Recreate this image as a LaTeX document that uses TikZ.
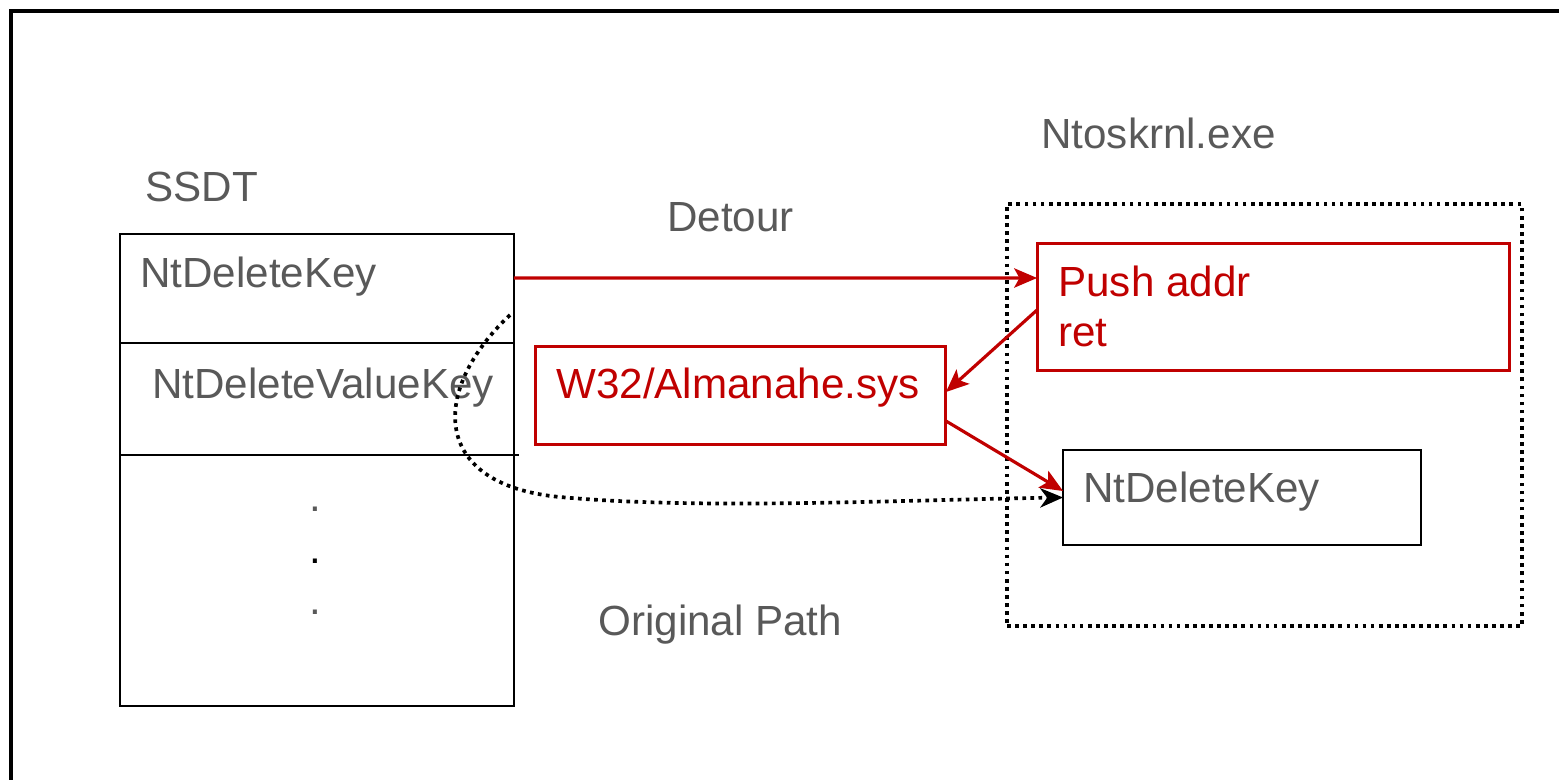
\documentclass[tikz,border=0pt]{standalone}
\usepackage{fontspec}
\setmainfont{Liberation Sans}
\usetikzlibrary{arrows.meta,calc}
\definecolor{tgray}{RGB}{89,89,89}
\definecolor{dred}{RGB}{192,0,0}
\tikzset{
  box/.style={draw, line width=1.6pt, rectangle, inner sep=0pt, outer sep=0pt},
  redbox/.style={box, draw=dred, line width=1.7pt},
  dotbox/.style={box, line width=2.1pt, dash pattern=on 2.1pt off 2.5pt},
  lbl/.style={anchor=base west, inner sep=0pt, font=\fontsize{24}{29}\selectfont, text=tgray},
  redlbl/.style={lbl, text=dred},
  dotlbl/.style={lbl, anchor=base},
  redarrow/.style={draw=dred, line width=1.8pt, -{Stealth[length=13pt,width=11pt,inset=3pt]}},
  dotline/.style={line width=2.1pt, dash pattern=on 2.1pt off 2.5pt, -{Stealth[length=13pt,width=11pt,inset=4pt]}},
}
\begin{document}
\begin{tikzpicture}[x=0.02cm, y=-0.02cm]
\useasboundingbox (0,0) rectangle (1559,780);
% outer frame
\draw[line width=2.6pt] (1559,11) -- (11,11) -- (11,780);

% SSDT table
\node[box, minimum width=7.88cm, minimum height=2.18cm] (row1) at (317,288.5) {};
\node[box, minimum width=7.88cm, minimum height=2.24cm] (row2) at (317,399) {};
\node[box, minimum width=7.88cm, minimum height=5.02cm] (row3) at (317,580.5) {};
\draw[line width=1.6pt] (row3.north east) -- ++(5,0);

\node[lbl] (ssdtlbl) at (145,202) {SSDT};
\node[lbl] (k1) at (140,288) {NtDeleteKey};
\node[lbl] (k2) at (152,399) {NtDeleteValueKey};
\node[dotlbl] (dot1) at (315,512) {.};
\node[dotlbl, text=black] (dot2) at (315,563) {.};
\node[dotlbl] (dot3) at (315,614) {.};

% labels
\node[lbl] (detour) at (667,232) {Detour};
\node[lbl] (orig) at (598,635) {Original Path};
\node[lbl] (ntos) at (1041,149) {Ntoskrnl.exe};

% kernel region
\node[dotbox, minimum width=10.3cm, minimum height=8.44cm] (kernel) at (1264.5,415) {};
\node[redbox, minimum width=9.46cm, minimum height=2.56cm] (push) at (1273.5,307) {};
\node[redlbl] (pushl1) at (1058,297) {Push addr};
\node[redlbl] (pushl2) at (1058,347) {ret};
\node[box, minimum width=7.16cm, minimum height=1.9cm] (nk) at (1242,497.5) {};
\node[lbl] (nkl) at (1083,502) {NtDeleteKey};

% rootkit driver
\node[redbox, minimum width=8.22cm, minimum height=1.98cm] (w32) at (740.5,395.5) {};
\node[redlbl] (w32l) at (556,399) {W32/Almanahe.sys};

% connectors
\draw[redarrow] ([yshift=0.21cm]row1.east) -- ([yshift=0.58cm]push.west);
\draw[redarrow] ([yshift=-0.06cm]push.west) -- ([yshift=0.07cm]w32.east);
\draw[redarrow] ([yshift=-0.51cm]w32.east) -- ([yshift=0.13cm]nk.west);

\coordinate (op) at (510,315);
\draw[dotline] (op) .. controls (430,390) and (430,485) .. (560,497)
  .. controls (700,510) and (900,500) .. (nk.west);
\end{tikzpicture}
\end{document}
